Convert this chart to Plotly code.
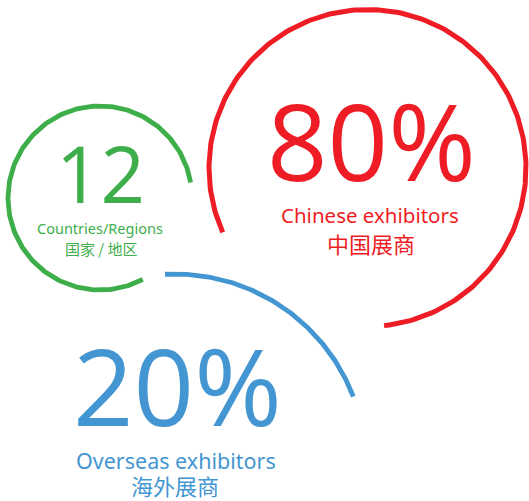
import numpy as np
import plotly.graph_objects as go

# ---- data ----
percent_values = [80, 20]            # Chinese / overseas exhibitors share (%)
countries_value = 12                 # countries / regions
big_labels = ["80%", "12", "20%"]
en_labels = ["Chinese exhibitors", "Countries/Regions", "Overseas exhibitors"]
zh_labels = ["中国展商", "国家 / 地区", "海外展商"]
arc_fractions = [0.80, 0.80, 0.20]   # share of full circle drawn by each ring

# ---- style / layout ----
colors = ["#EE1C25", "#3DAE4A", "#4396D2"]
centers = [(367.5, 168), (100, 198), (175, 465)]
radii = [158.5, 92, 191]
start_deg = [204, 297.7, 93]         # arcs drawn clockwise from here
widths = [5, 4.8, 4.8]

W, H = 529, 501
fig = go.Figure()
for frac, (cx, cy), r, a0, col, lw in zip(arc_fractions, centers, radii, start_deg, colors, widths):
    t = np.radians(np.linspace(a0, a0 - 360 * frac, 240))
    fig.add_trace(go.Scatter(x=cx + r * np.cos(t), y=cy - r * np.sin(t), mode="lines",
                             line=dict(color=col, width=lw), hoverinfo="skip", showlegend=False))

# text positions (ink centres) and font sizes
big_pos = [(371, 139.5, 106), (100, 172.5, 78), (177.5, 385, 106)]
en_pos = [(369.5, 215, 20.5), (100, 227.5, 14.5), (175.5, 460, 21.5)]
zh_pos = [(370.5, 242.5, 22), (101, 248.5, 15), (175, 485, 22)]

ann = []
for i in range(3):
    for (x, y, s), text, fam in ((big_pos[i], big_labels[i], "Open Sans"),
                                 (en_pos[i], en_labels[i], "Noto Sans"),
                                 (zh_pos[i], zh_labels[i], "Noto Sans CJK SC")):
        ann.append(dict(x=x, y=y, text=text, showarrow=False, xanchor="center", yanchor="middle",
                        borderpad=0, font=dict(family=fam, size=s, color=colors[i])))

fig.update_layout(
    width=W, height=H, autosize=False,
    margin=dict(l=0, r=0, t=0, b=0),
    paper_bgcolor="white", plot_bgcolor="white",
    xaxis=dict(range=[0, W], visible=False, fixedrange=True),
    yaxis=dict(range=[H, 0], visible=False, fixedrange=True),
    annotations=ann,
)
fig.write_html("out.html", config={"displayModeBar": False})
